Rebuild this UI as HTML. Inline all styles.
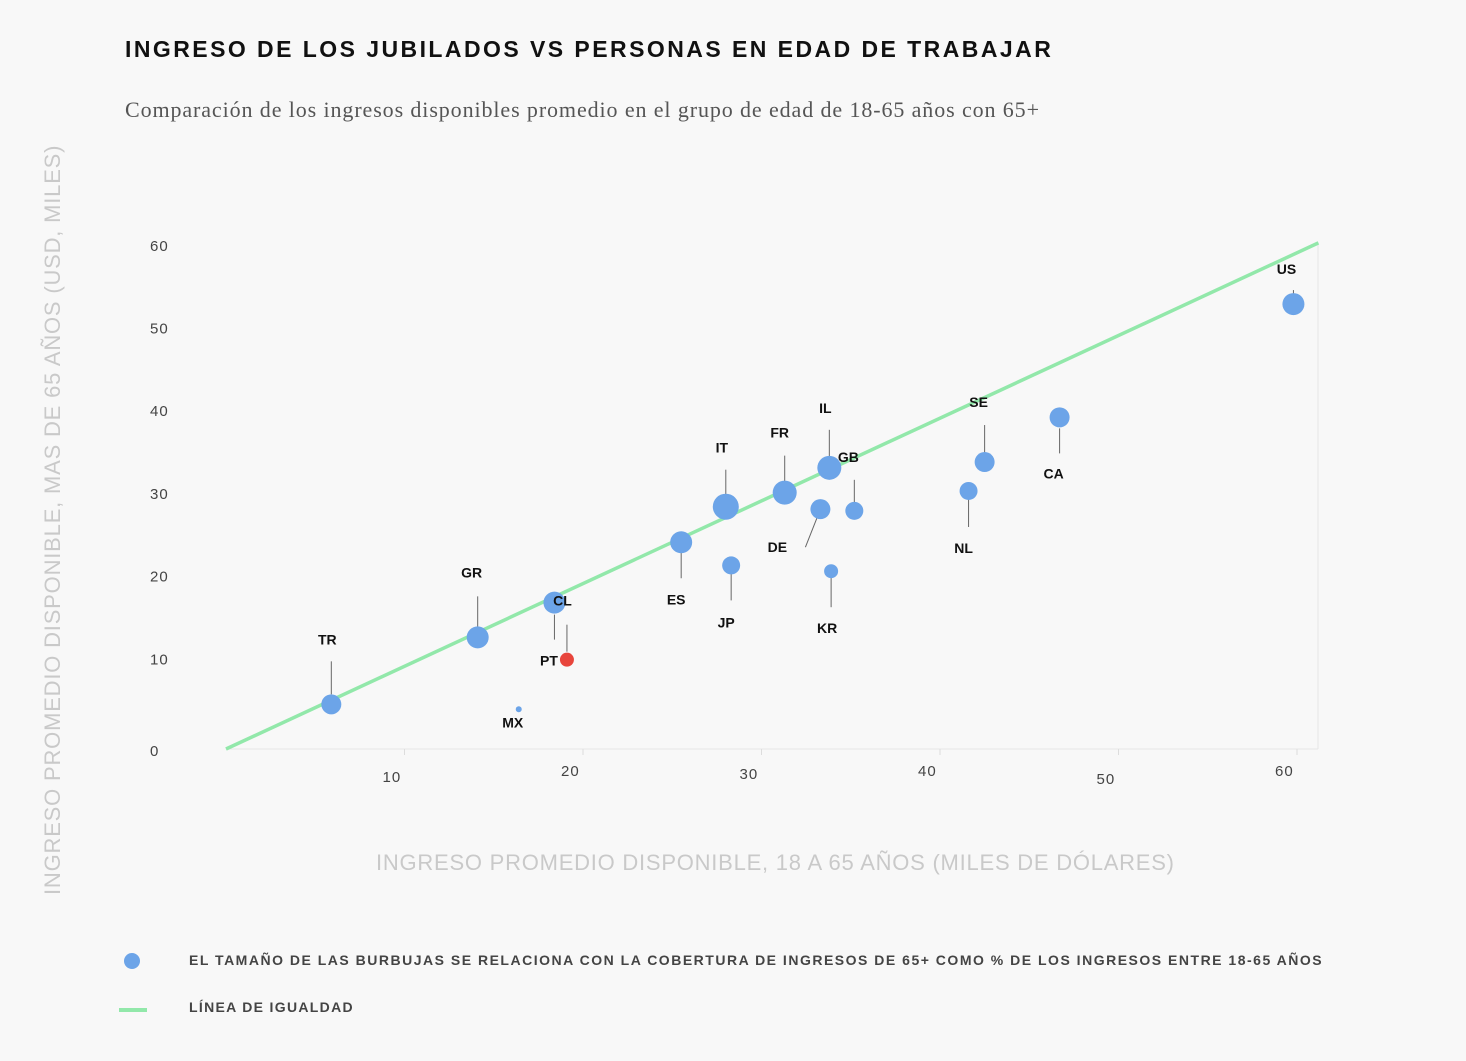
<!DOCTYPE html>
<html><head><meta charset="utf-8">
<style>
body{margin:0;background:#f8f8f8;width:1466px;height:1056px;overflow:hidden;font-family:"Liberation Sans",sans-serif;}
svg text{font-family:"Liberation Sans",sans-serif;}
</style></head>
<body>
<svg id="chart" width="1466" height="1056" xmlns="http://www.w3.org/2000/svg">
<rect width="1466" height="1056" fill="#f8f8f8"/>
<text x="125" y="57" font-size="23" font-weight="bold" letter-spacing="2.2" fill="#111" textLength="928">INGRESO DE LOS JUBILADOS VS PERSONAS EN EDAD DE TRABAJAR</text>
<text x="125" y="117" font-size="22" fill="#555" style="font-family:'Liberation Serif',serif" textLength="914">Comparación de los ingresos disponibles promedio en el grupo de edad de 18-65 años con 65+</text>
<text transform="translate(60,520) rotate(-90)" text-anchor="middle" font-size="22" fill="#c9c9c9" letter-spacing="0.5" textLength="750">INGRESO PROMEDIO DISPONIBLE, MAS DE 65 AÑOS (USD, MILES)</text>
<text x="775" y="870" text-anchor="middle" font-size="22" fill="#c9c9c9" textLength="798">INGRESO PROMEDIO DISPONIBLE, 18 A 65 AÑOS (MILES DE DÓLARES)</text>
<line x1="226" y1="749" x2="1318" y2="749" stroke="#e6e6e6"/>
<line x1="1318" y1="243" x2="1318" y2="749" stroke="#e6e6e6"/>
<g id="ticks"></g>
<g id="eq"></g>
<g id="marks"></g>
<circle cx="132" cy="961" r="8" fill="#6ca4e8"/>
<text x="189" y="965" font-size="14" font-weight="600" letter-spacing="1.4" fill="#444" textLength="1134">EL TAMAÑO DE LAS BURBUJAS SE RELACIONA CON LA COBERTURA DE INGRESOS DE 65+ COMO % DE LOS INGRESOS ENTRE 18-65 AÑOS</text>
<line x1="119" y1="1010" x2="147" y2="1010" stroke="#92e8aa" stroke-width="4"/>
<text x="189" y="1012" font-size="14" font-weight="600" letter-spacing="1.4" fill="#444" textLength="165">LÍNEA DE IGUALDAD</text>
</svg>
<script>
const countries=["TR","GR","CL","PT","MX","ES","IT","JP","FR","DE","IL","GB","KR","NL","SE","CA","US"];
const xVals=[5.9,14.1,18.4,19.1,16.4,25.5,28.0,28.3,31.3,33.3,33.8,35.2,33.9,41.6,42.5,46.7,59.8];
const yVals=[5.4,13.5,17.7,10.8,4.8,25.0,29.3,22.2,31.0,29.0,34.0,28.8,21.5,31.2,34.7,40.1,53.8];
const sizes=[10,11,11,7,3,11,13,9,12,10,12,9,7,9,10,10,11];
const xTicks=[10,20,30,40,50,60];
const yTicks=[0,10,20,30,40,50,60];
const NS="http://www.w3.org/2000/svg";
function X(v){return 226+v*17.85;}
function Y(v){return 749-v*8.27;}
const lab={TR:[-4,-61,0,-43,0,-10],GR:[-6,-61,0,-41,0,-10],CL:[8,2,0,12,0,37],PT:[-18,5,0,-35,0,-8],MX:[-6,17,0,0,0,0],
ES:[-5,61,0,8,0,36],IT:[-4,-55,0,-37,0,-10],JP:[-5,61,0,0,0,35],FR:[-5,-56,0,-37,0,-8],DE:[-43,42,-15,38,0,0],
IL:[-4,-56,0,-38,0,-8],GB:[-6,-50,0,-31,0,-6],KR:[-4,61,0,0,0,36],NL:[-5,61,0,0,0,36],SE:[-6,-56,0,-37,0,-7],
CA:[-6,60,0,11,0,36],US:[-7,-31,0,-14,0,0]};
function mk(tag,attrs,parent){const e=document.createElementNS(NS,tag);for(const k in attrs)e.setAttribute(k,attrs[k]);parent.appendChild(e);return e;}
const tg=document.getElementById('ticks');
const xOff=[6,0,3,0,8,0];
xTicks.forEach((t,i)=>{
 const l=mk('line',{x1:X(t),y1:749,x2:X(t),y2:755,stroke:'#ddd'},tg);
 
 
 const tx=mk('text',{x:X(t)-22,y:776+xOff[i],'font-size':15,fill:'#444','letter-spacing':1},tg);
 tx.textContent=t;
 
 
});
yTicks.forEach(t=>{
 const tx=mk('text',{x:150,y:Y(t)+(t===0?7:-2),'font-size':15,fill:'#444','letter-spacing':1},tg);
 tx.textContent=t;
 
 
});
const eq=mk('line',{x1:X(0),y1:Y(0),x2:X(61.2),y2:Y(61.2),stroke:'#92e8aa','stroke-width':3.5},document.getElementById('eq'));


const mg=document.getElementById('marks');
countries.forEach((c,i)=>{
 const cx=X(xVals[i]),cy=Y(yVals[i]);const o=lab[c];
 if(o[3]!==o[5]||o[2]!==o[4]){
  const ln=mk('line',{x1:cx+o[2],y1:cy+o[3],x2:cx+o[4],y2:cy+o[5],stroke:'#666','stroke-width':1},mg);
  
  
 }
 const ci=mk('circle',{cx:cx,cy:cy,r:sizes[i],fill:c==='PT'?'#e8453c':'#6ca4e8'},mg);
 
 
 const tx=mk('text',{x:cx+o[0],y:cy+o[1]+1,'text-anchor':'middle','font-size':14,'font-weight':'bold',fill:'#111'},mg);
 tx.textContent=c;
 
 
});
</script>
</body></html>
